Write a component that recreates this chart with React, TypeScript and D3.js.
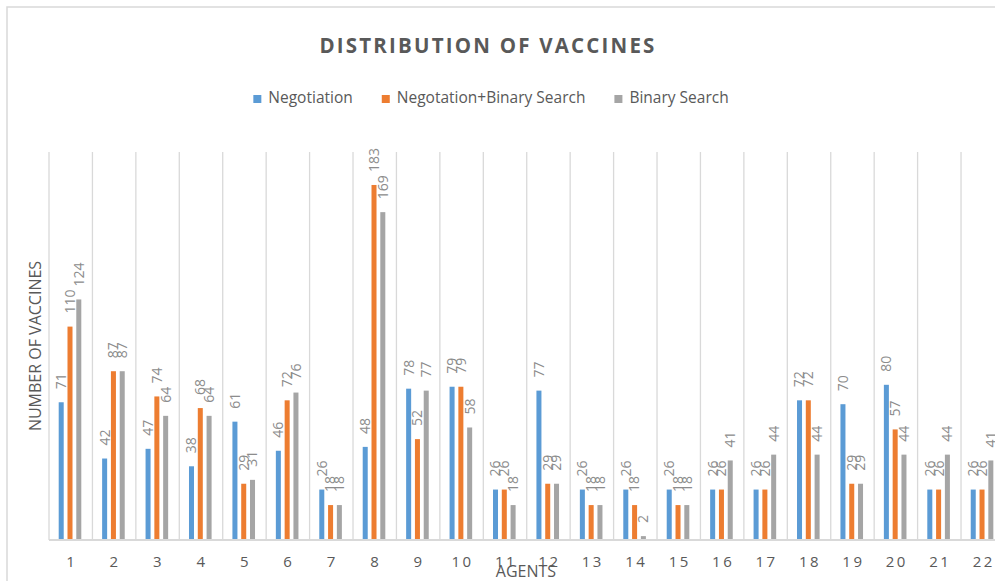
import * as d3 from "d3";

const agents = [
  "1", "2", "3", "4", "5", "6", "7", "8", "9", "10", "11",
  "12", "13", "14", "15", "16", "17", "18", "19", "20", "21", "22",
];
const negotiation = [71, 42, 47, 38, 61, 46, 26, 48, 78, 79, 26, 77, 26, 26, 26, 26, 26, 72, 70, 80, 26, 26];
const negBinary = [110, 87, 74, 68, 29, 72, 18, 183, 52, 79, 26, 29, 18, 18, 18, 26, 26, 72, 29, 57, 26, 26];
const binarySearch = [124, 87, 64, 64, 31, 76, 18, 169, 77, 58, 18, 29, 18, 2, 18, 41, 44, 44, 29, 44, 44, 41];

const seriesNames = ["Negotiation", "Negotation+Binary Search", "Binary Search"];
const seriesValues = [negotiation, negBinary, binarySearch];
const colors = ["#5B9BD5", "#ED7D31", "#A5A5A5"];

const FONT = "'Open Sans', 'Liberation Sans', sans-serif";

const measure = (text: string, font: string) => {
  const ctx = document.createElement("canvas").getContext("2d");
  if (!ctx) return text.length * 7;
  ctx.font = font;
  return ctx.measureText(text).width;
};

const App = () => {
  const width = 995;
  const height = 581;
  const plot = { left: 49, top: 152, bottom: 540, step: 43.43 };

  const x = d3
    .scaleBand()
    .domain(agents)
    .range([plot.left, plot.left + plot.step * agents.length])
    .padding(0);

  const inner = d3
    .scaleBand()
    .domain(seriesNames)
    .range([9.7, 32.3])
    .paddingInner(0.43)
    .paddingOuter(0);

  const y = d3.scaleLinear().domain([0, 200]).range([plot.bottom, plot.top]);

  // legend layout
  const legendSize = 15.5;
  const legendFont = `${legendSize}px ${FONT}`;
  const swatch = 8;
  const swatchGap = 7;
  const itemGap = 29;
  const widths = seriesNames.map((n) => swatch + swatchGap + measure(n, legendFont));
  const totalLegend = d3.sum(widths) + itemGap * (widths.length - 1);
  let lx = 491 - totalLegend / 2;
  const legendItems = seriesNames.map((n, i) => {
    const pos = lx;
    lx += widths[i] + itemGap;
    return { name: n, x: pos, color: colors[i] };
  });

  return (
    <svg
      width={width}
      height={height}
      style={{ position: "absolute", left: 0, top: 0, background: "#fff" }}
      fontFamily={FONT}
    >
      <rect x={7} y={7} width={1100} height={700} fill="#fff" stroke="#D9D9D9" strokeWidth={1.5} />

      <text
        x={488}
        y={53}
        textAnchor="middle"
        fontSize={20.5}
        fontWeight={700}
        letterSpacing={2.2}
        fill="#595959"
      >
        DISTRIBUTION OF VACCINES
      </text>

      {legendItems.map((d) => (
        <g key={d.name}>
          <rect x={d.x} y={95} width={swatch} height={swatch} fill={d.color} />
          <text x={d.x + swatch + swatchGap} y={103} fontSize={legendSize} fill="#595959">
            {d.name}
          </text>
        </g>
      ))}

      {/* vertical gridlines at category boundaries */}
      {d3.range(agents.length + 1).map((i) => {
        const gx = plot.left + i * x.step();
        return (
          <line key={i} x1={gx} x2={gx} y1={plot.top} y2={plot.bottom} stroke="#D9D9D9" strokeWidth={1.3} />
        );
      })}

      {agents.map((a, ai) => (
        <g key={a} transform={`translate(${x(a)},0)`}>
          {seriesNames.map((s, si) => {
            const v = seriesValues[si][ai];
            const bx = inner(s)!;
            const cx = bx + inner.bandwidth() / 2;
            return (
              <g key={s}>
                <rect
                  x={bx}
                  y={y(v)}
                  width={inner.bandwidth()}
                  height={plot.bottom - y(v)}
                  fill={colors[si]}
                />
                <text
                  transform={`translate(${cx},${y(v) - 13}) rotate(-90)`}
                  dy="0.35em"
                  fontSize={14}
                  fill="#8C8C8C"
                >
                  {v}
                </text>
              </g>
            );
          })}
          <text
            x={x.bandwidth() / 2 + 1}
            y={567}
            textAnchor="middle"
            fontSize={15}
            letterSpacing={2.5}
            fill="#595959"
          >
            {a}
          </text>
        </g>
      ))}

      <line
        x1={plot.left}
        x2={plot.left + plot.step * agents.length}
        y1={plot.bottom}
        y2={plot.bottom}
        stroke="#D9D9D9"
        strokeWidth={1.8}
      />

      <text x={526} y={577} textAnchor="middle" fontSize={16} fill="#595959">
        AGENTS
      </text>
      <text
        transform={`translate(35,346) rotate(-90)`}
        textAnchor="middle"
        dy="0.35em"
        fontSize={16}
        fill="#595959"
      >
        NUMBER OF VACCINES
      </text>
    </svg>
  );
};

export default App;
